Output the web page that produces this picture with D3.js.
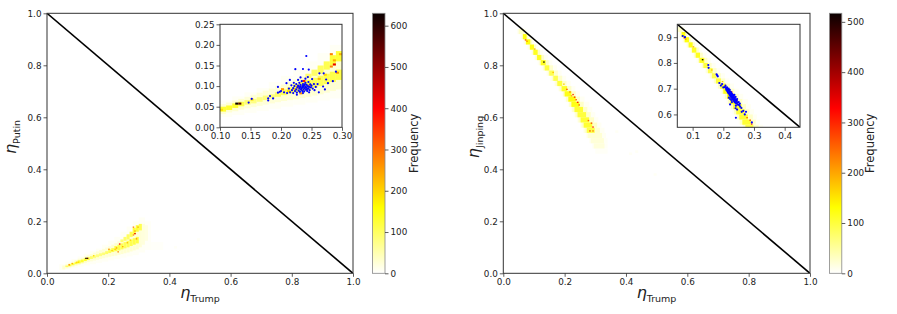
<!DOCTYPE html>
<html>
<head>
<meta charset="utf-8">
<script src="https://cdn.jsdelivr.net/npm/d3@7"></script>
<style>
  body { margin: 0; background: #fff; }
  text { font-family: "DejaVu Sans", sans-serif; }
</style>
</head>
<body>
<script>
// ticks
const mainTicks = [0, 0.2, 0.4, 0.6, 0.8, 1.0];
const putinInsetXTicks = [0.10, 0.15, 0.20, 0.25, 0.30];
const putinInsetYTicks = [0.00, 0.05, 0.10, 0.15, 0.20, 0.25];
const jinpingInsetXTicks = [0.1, 0.2, 0.3, 0.4];
const jinpingInsetYTicks = [0.6, 0.7, 0.8, 0.9];
const putinCbarTicks = [0, 100, 200, 300, 400, 500, 600];
const jinpingCbarTicks = [0, 100, 200, 300, 400, 500];
const putinMax = 630;
const jinpingMax = 517;

// histogram cells: [x0, y0, x1, y1, count]
const putinBins = [
  // faint halo
  [0.04,0.012,0.06,0.035,6],[0.06,0.015,0.08,0.045,6],[0.08,0.02,0.10,0.055,6],[0.10,0.025,0.12,0.065,6],
  [0.12,0.03,0.14,0.075,6],[0.14,0.035,0.16,0.085,6],[0.16,0.04,0.18,0.095,6],[0.18,0.045,0.20,0.11,6],
  [0.20,0.05,0.22,0.125,6],[0.22,0.055,0.24,0.14,6],[0.24,0.06,0.26,0.16,6],[0.26,0.065,0.28,0.18,6],
  [0.28,0.07,0.30,0.20,6],[0.30,0.08,0.32,0.215,6],[0.32,0.09,0.34,0.20,5],[0.34,0.09,0.38,0.12,4],
  [0.415,0.095,0.425,0.105,5],[0.49,0.125,0.50,0.135,5],
  // pale band
  [0.05,0.015,0.06,0.03,28],[0.06,0.019,0.07,0.035,28],[0.07,0.022,0.08,0.04,28],[0.08,0.025,0.09,0.045,28],
  [0.09,0.029,0.10,0.051,28],[0.10,0.032,0.11,0.056,28],[0.11,0.036,0.12,0.06,28],[0.12,0.039,0.13,0.065,28],
  [0.13,0.043,0.14,0.069,28],[0.14,0.046,0.15,0.074,25],[0.15,0.049,0.16,0.079,25],[0.16,0.052,0.17,0.084,25],
  [0.17,0.055,0.18,0.089,25],[0.18,0.058,0.19,0.094,25],[0.19,0.061,0.20,0.099,25],[0.20,0.064,0.21,0.104,28],
  [0.21,0.066,0.22,0.11,28],[0.22,0.068,0.23,0.116,28],[0.23,0.071,0.24,0.123,28],[0.24,0.074,0.25,0.13,28],
  [0.25,0.077,0.26,0.137,28],[0.26,0.08,0.27,0.146,28],[0.27,0.084,0.28,0.156,28],[0.28,0.088,0.29,0.168,28],
  [0.29,0.092,0.30,0.18,28],[0.30,0.10,0.31,0.19,25],[0.31,0.11,0.32,0.19,22],[0.32,0.125,0.33,0.185,18],
  // core
  [0.06,0.024,0.07,0.03,100],[0.07,0.027,0.08,0.035,115],[0.08,0.031,0.09,0.039,120],[0.09,0.035,0.10,0.044,125],
  [0.10,0.038,0.11,0.05,130],[0.11,0.042,0.12,0.053,130],[0.12,0.047,0.13,0.058,130],[0.13,0.051,0.14,0.062,115],
  [0.14,0.055,0.15,0.066,90],[0.15,0.058,0.16,0.069,80],[0.16,0.062,0.17,0.073,80],[0.17,0.066,0.18,0.077,80],
  [0.18,0.07,0.19,0.08,85],[0.19,0.074,0.20,0.085,95],[0.20,0.078,0.21,0.092,105],[0.21,0.082,0.22,0.097,110],
  [0.22,0.085,0.23,0.105,115],[0.23,0.088,0.24,0.11,115],[0.24,0.092,0.25,0.115,110],[0.25,0.096,0.26,0.12,105],
  [0.26,0.10,0.27,0.125,105],[0.27,0.105,0.28,0.13,110],[0.28,0.11,0.29,0.135,115],[0.29,0.115,0.30,0.14,115],
  [0.24,0.12,0.25,0.13,90],[0.25,0.125,0.26,0.14,95],[0.26,0.13,0.27,0.15,100],[0.27,0.14,0.28,0.16,110],
  [0.28,0.15,0.29,0.175,125],[0.29,0.16,0.30,0.185,125],[0.30,0.165,0.31,0.19,110],
  // hot spots
  [0.125,0.055,0.13,0.06,630],[0.13,0.055,0.135,0.06,560],
  [0.28,0.175,0.285,0.18,280],[0.285,0.15,0.29,0.155,420],[0.28,0.145,0.285,0.15,270],[0.29,0.13,0.295,0.135,260],
  [0.295,0.175,0.30,0.18,230],[0.20,0.09,0.205,0.095,260],[0.23,0.08,0.235,0.085,270],[0.235,0.11,0.24,0.115,380],
  [0.225,0.095,0.23,0.10,250],[0.07,0.03,0.075,0.035,280],[0.08,0.035,0.085,0.04,230],[0.095,0.04,0.10,0.045,200],
  [0.10,0.04,0.105,0.045,190],[0.15,0.065,0.155,0.07,190],[0.245,0.10,0.25,0.105,230],[0.26,0.115,0.265,0.12,220],
  [0.27,0.125,0.275,0.13,200],[0.285,0.16,0.29,0.165,240],[0.22,0.09,0.225,0.095,210],[0.21,0.085,0.215,0.09,200]
];

// observed points [x, y]
const putinPoints = [
  [0.147,0.060],[0.152,0.069],[0.179,0.065],[0.179,0.070],[0.182,0.076],[0.187,0.070],
  [0.195,0.084],[0.198,0.086],[0.195,0.098],[0.200,0.088],[0.209,0.107],[0.2145,0.115],[0.205,0.085],[0.210,0.083],
  [0.2235,0.141],[0.236,0.1415],[0.2455,0.140],[0.2415,0.173],[0.263,0.131],[0.270,0.131],[0.251,0.117],
  [0.274,0.116],[0.277,0.107],[0.269,0.099],[0.255,0.090],[0.262,0.085],[0.285,0.112],[0.290,0.135],
  [0.272,0.092],[0.260,0.105],
  [0.215,0.085],[0.218,0.090],[0.220,0.083],[0.220,0.095],[0.222,0.100],[0.223,0.088],[0.225,0.092],
  [0.225,0.105],[0.226,0.084],[0.227,0.097],[0.228,0.101],[0.229,0.089],[0.230,0.094],[0.230,0.108],
  [0.231,0.086],[0.232,0.099],[0.232,0.103],[0.233,0.091],[0.234,0.095],[0.234,0.112],[0.235,0.088],
  [0.235,0.100],[0.236,0.097],[0.236,0.105],[0.237,0.092],[0.238,0.102],[0.238,0.087],[0.239,0.095],
  [0.240,0.099],[0.240,0.108],[0.241,0.091],[0.242,0.103],[0.242,0.096],[0.243,0.088],[0.244,0.100],
  [0.245,0.094],[0.245,0.110],[0.246,0.098],[0.247,0.090],[0.248,0.104],[0.249,0.097],[0.250,0.101],
  [0.252,0.094],[0.228,0.115],[0.240,0.118],[0.232,0.121],[0.244,0.122],[0.217,0.102],[0.213,0.094],
  [0.221,0.108],[0.236,0.083],[0.226,0.079],[0.246,0.085],[0.254,0.105],[0.257,0.098],[0.231,0.097],
  [0.237,0.100],[0.233,0.093],[0.239,0.104],[0.241,0.097],[0.229,0.100],[0.243,0.093]
];

const jinpingBins = [
  // faint halo
  [0.045,0.92,0.075,0.94,6],[0.055,0.90,0.09,0.92,6],[0.065,0.88,0.10,0.90,6],[0.078,0.86,0.115,0.88,6],
  [0.09,0.84,0.13,0.86,6],[0.10,0.82,0.145,0.84,6],[0.112,0.80,0.16,0.82,6],[0.125,0.78,0.175,0.80,6],
  [0.14,0.76,0.19,0.78,6],[0.152,0.74,0.205,0.76,6],[0.165,0.72,0.22,0.74,6],[0.178,0.70,0.235,0.72,6],
  [0.19,0.68,0.25,0.70,6],[0.20,0.66,0.265,0.68,6],[0.21,0.64,0.28,0.66,6],[0.22,0.62,0.29,0.64,6],
  [0.23,0.60,0.30,0.62,6],[0.24,0.58,0.31,0.60,6],[0.25,0.56,0.32,0.58,6],[0.26,0.54,0.33,0.56,6],
  [0.27,0.52,0.335,0.54,6],[0.28,0.50,0.34,0.52,5],[0.29,0.48,0.34,0.50,5],[0.30,0.46,0.34,0.48,4],
  [0.365,0.54,0.375,0.55,5],[0.41,0.455,0.42,0.465,5],[0.43,0.463,0.44,0.473,5],[0.49,0.375,0.50,0.385,5],
  // pale band
  [0.05,0.92,0.068,0.94,28],[0.06,0.90,0.082,0.92,28],[0.07,0.88,0.094,0.90,28],[0.083,0.86,0.107,0.88,28],
  [0.095,0.84,0.12,0.86,28],[0.105,0.82,0.133,0.84,28],[0.118,0.80,0.148,0.82,28],[0.13,0.78,0.162,0.80,25],
  [0.145,0.76,0.178,0.78,25],[0.158,0.74,0.192,0.76,25],[0.17,0.72,0.206,0.74,25],[0.183,0.70,0.222,0.72,28],
  [0.195,0.68,0.236,0.70,28],[0.205,0.66,0.25,0.68,28],[0.215,0.64,0.262,0.66,28],[0.225,0.62,0.274,0.64,28],
  [0.235,0.60,0.285,0.62,28],[0.245,0.58,0.296,0.60,28],[0.255,0.56,0.306,0.58,28],[0.265,0.54,0.315,0.56,25],
  [0.275,0.52,0.322,0.54,22],[0.285,0.50,0.328,0.52,20],[0.295,0.48,0.33,0.50,18],
  // core
  [0.064,0.90,0.076,0.92,125],[0.074,0.88,0.088,0.90,125],[0.087,0.86,0.10,0.88,120],[0.098,0.84,0.112,0.86,115],
  [0.11,0.82,0.124,0.84,115],[0.122,0.80,0.138,0.82,115],[0.135,0.78,0.15,0.80,100],[0.15,0.76,0.165,0.78,90],
  [0.163,0.74,0.178,0.76,90],[0.176,0.72,0.192,0.74,100],[0.19,0.70,0.208,0.72,110],[0.20,0.68,0.222,0.70,120],
  [0.212,0.66,0.236,0.68,125],[0.222,0.64,0.248,0.66,120],[0.232,0.62,0.26,0.64,105],[0.242,0.60,0.27,0.62,100],
  [0.252,0.58,0.28,0.60,105],[0.262,0.56,0.29,0.58,105],[0.272,0.54,0.298,0.56,95],
  // hot spots
  [0.13,0.81,0.135,0.815,517],[0.07,0.895,0.075,0.90,280],[0.075,0.89,0.08,0.895,220],[0.195,0.725,0.20,0.73,170],
  [0.205,0.705,0.21,0.71,260],[0.215,0.695,0.22,0.70,230],[0.225,0.685,0.23,0.69,280],[0.23,0.675,0.235,0.68,300],
  [0.235,0.665,0.24,0.67,260],[0.24,0.655,0.245,0.66,310],[0.245,0.645,0.25,0.65,250],[0.22,0.68,0.225,0.685,200],
  [0.275,0.585,0.28,0.59,250],[0.285,0.575,0.29,0.58,280],[0.29,0.56,0.295,0.565,300],[0.28,0.545,0.285,0.55,270],
  [0.29,0.545,0.295,0.55,230],[0.10,0.86,0.105,0.865,190],[0.16,0.77,0.165,0.775,180]
];

const jinpingPoints = [
  [0.0676,0.9045],[0.075,0.900],[0.151,0.792],[0.152,0.781],[0.178,0.756],[0.182,0.748],[0.180,0.752],
  [0.187,0.722],[0.192,0.712],[0.196,0.718],[0.200,0.705],
  [0.205,0.706],[0.207,0.712],[0.209,0.700],[0.210,0.695],[0.212,0.705],[0.213,0.690],[0.214,0.698],
  [0.215,0.685],[0.216,0.694],[0.217,0.700],[0.218,0.682],[0.219,0.690],[0.220,0.676],[0.220,0.686],
  [0.221,0.695],[0.222,0.680],[0.223,0.672],[0.224,0.688],[0.225,0.678],[0.225,0.668],[0.226,0.684],
  [0.227,0.674],[0.228,0.664],[0.228,0.680],[0.229,0.670],[0.230,0.676],[0.230,0.660],[0.231,0.668],
  [0.232,0.674],[0.232,0.656],[0.233,0.664],[0.234,0.670],[0.235,0.658],[0.235,0.652],[0.236,0.664],
  [0.237,0.648],[0.238,0.660],[0.239,0.654],[0.240,0.645],[0.241,0.658],[0.242,0.650],[0.243,0.642],
  [0.244,0.654],[0.246,0.646],[0.248,0.638],[0.250,0.648],[0.252,0.636],[0.254,0.642],[0.222,0.660],
  [0.218,0.665],[0.226,0.656],[0.240,0.668],[0.245,0.660],[0.236,0.676],
  [0.222,0.639],[0.241,0.634],[0.240,0.624],[0.245,0.619],[0.259,0.625],[0.265,0.614],[0.270,0.600],
  [0.274,0.610],[0.260,0.610],[0.241,0.587],[0.293,0.569],[0.255,0.630],[0.228,0.648]
];

const svg = d3.select("body").append("svg").attr("width", 897).attr("height", 314);
svg.append("rect").attr("width", 897).attr("height", 314).attr("fill", "#fff");

// reversed "hot" colour map
const hotStops = [0, 0.254, 0.635, 1];
const hotColors = ["#ffffff", "#ffff00", "#ff0000", "#0b0000"];
const hotR = d3.scaleLinear().domain(hotStops).range(hotColors).clamp(true);

let clipCount = 0;

function drawAxes(box, xDom, yDom, bins, maxCount, points, xTicks, yTicks, fmt) {
  const x = d3.scaleLinear().domain(xDom).range([box.x, box.x + box.w]);
  const y = d3.scaleLinear().domain(yDom).range([box.y + box.h, box.y]);
  const id = "clip" + (clipCount++);
  svg.append("clipPath").attr("id", id).append("rect")
    .attr("x", box.x).attr("y", box.y).attr("width", box.w).attr("height", box.h);

  const g = svg.append("g");
  g.append("rect").attr("x", box.x).attr("y", box.y).attr("width", box.w).attr("height", box.h)
    .attr("fill", "#fff");
  const plot = g.append("g").attr("clip-path", `url(#${id})`);

  plot.selectAll(".bin").data(bins).join("rect")
    .attr("class", "bin")
    .attr("x", d => x(d[0]))
    .attr("y", d => y(d[3]))
    .attr("width", d => x(d[2]) - x(d[0]))
    .attr("height", d => y(d[1]) - y(d[3]))
    .attr("fill", d => hotR(d[4] / maxCount));

  // x + y = 1
  plot.append("line")
    .attr("x1", x(0)).attr("y1", y(1)).attr("x2", x(1)).attr("y2", y(0))
    .attr("stroke", "#000").attr("stroke-width", 1.6);

  if (points) {
    plot.selectAll(".pt").data(points).join("circle")
      .attr("class", "pt")
      .attr("cx", d => x(d[0])).attr("cy", d => y(d[1]))
      .attr("r", 1.1).attr("fill", "#0000ff");
  }

  const ax = g.append("g").attr("transform", `translate(0,${box.y + box.h})`)
    .call(d3.axisBottom(x).tickValues(xTicks).tickFormat(fmt).tickSize(3.5).tickSizeOuter(0).tickPadding(2));
  const ay = g.append("g").attr("transform", `translate(${box.x},0)`)
    .call(d3.axisLeft(y).tickValues(yTicks).tickFormat(fmt).tickSize(3.5).tickSizeOuter(0).tickPadding(2));
  [ax, ay].forEach(a => {
    a.select(".domain").remove();
    a.selectAll("line").attr("stroke", "#333").attr("stroke-width", 0.8);
    a.selectAll("text").attr("font-size", 8.8).attr("fill", "#222")
      .style("font-family", "'DejaVu Sans', sans-serif");
  });

  g.append("rect").attr("x", box.x).attr("y", box.y).attr("width", box.w).attr("height", box.h)
    .attr("fill", "none").attr("stroke", "#333").attr("stroke-width", 1);
}

function drawColorbar(box, maxCount, ticks, labelX) {
  const id = "grad" + (clipCount++);
  const grad = svg.append("defs").append("linearGradient").attr("id", id)
    .attr("x1", 0).attr("y1", 1).attr("x2", 0).attr("y2", 0);
  hotStops.forEach((s, i) => grad.append("stop").attr("offset", s).attr("stop-color", hotColors[i]));

  svg.append("rect").attr("x", box.x).attr("y", box.y).attr("width", box.w).attr("height", box.h)
    .attr("fill", `url(#${id})`).attr("stroke", "#888").attr("stroke-width", 0.8);

  const c = d3.scaleLinear().domain([0, maxCount]).range([box.y + box.h, box.y]);
  const a = svg.append("g").attr("transform", `translate(${box.x + box.w},0)`)
    .call(d3.axisRight(c).tickValues(ticks).tickSize(3.5).tickSizeOuter(0).tickPadding(2));
  a.select(".domain").remove();
  a.selectAll("line").attr("stroke", "#333").attr("stroke-width", 0.8);
  a.selectAll("text").attr("font-size", 8.8).attr("fill", "#222")
    .style("font-family", "'DejaVu Sans', sans-serif");

  svg.append("text")
    .attr("transform", `translate(${labelX},${box.y + box.h / 2}) rotate(-90)`)
    .attr("text-anchor", "middle")
    .attr("font-size", 11.5).attr("fill", "#222")
    .text("Frequency");
}

function etaLabel(xPos, yPos, sub, rotated) {
  const t = svg.append("text")
    .attr("text-anchor", "middle").attr("fill", "#222")
    .attr("transform", rotated ? `translate(${xPos},${yPos}) rotate(-90)` : `translate(${xPos},${yPos})`);
  t.append("tspan").attr("font-size", 16).attr("font-style", "italic").text("η");
  t.append("tspan").attr("font-size", 9.5).attr("dy", 3.5).text(sub);
}

const fmt1 = d3.format(".1f");
const fmt2 = d3.format(".2f");

// left panel: Trump vs Putin
drawAxes({ x: 47, y: 13.3, w: 306, h: 260 }, [0, 1], [0, 1], putinBins, putinMax, null,
  mainTicks, mainTicks, fmt1);
drawAxes({ x: 220, y: 24.3, w: 122, h: 103 }, [0.1, 0.3], [0, 0.25], putinBins, putinMax, putinPoints,
  putinInsetXTicks, putinInsetYTicks, fmt2);
drawColorbar({ x: 372.5, y: 13.3, w: 12.5, h: 260 }, putinMax, putinCbarTicks, 418);
etaLabel(200, 298, "Trump", false);
etaLabel(16, 137, "Putin", true);

// right panel: Trump vs Jinping
drawAxes({ x: 503.3, y: 13.3, w: 306.7, h: 260 }, [0, 1], [0, 1], jinpingBins, jinpingMax, null,
  mainTicks, mainTicks, fmt1);
drawAxes({ x: 677.3, y: 24.3, w: 122.7, h: 103 }, [0.05, 0.45], [0.55, 0.95], jinpingBins, jinpingMax, jinpingPoints,
  jinpingInsetXTicks, jinpingInsetYTicks, fmt1);
drawColorbar({ x: 829.5, y: 13.3, w: 12.3, h: 260 }, jinpingMax, jinpingCbarTicks, 874);
etaLabel(656.5, 298, "Trump", false);
etaLabel(479, 137, "Jinping", true);
</script>
</body>
</html>
